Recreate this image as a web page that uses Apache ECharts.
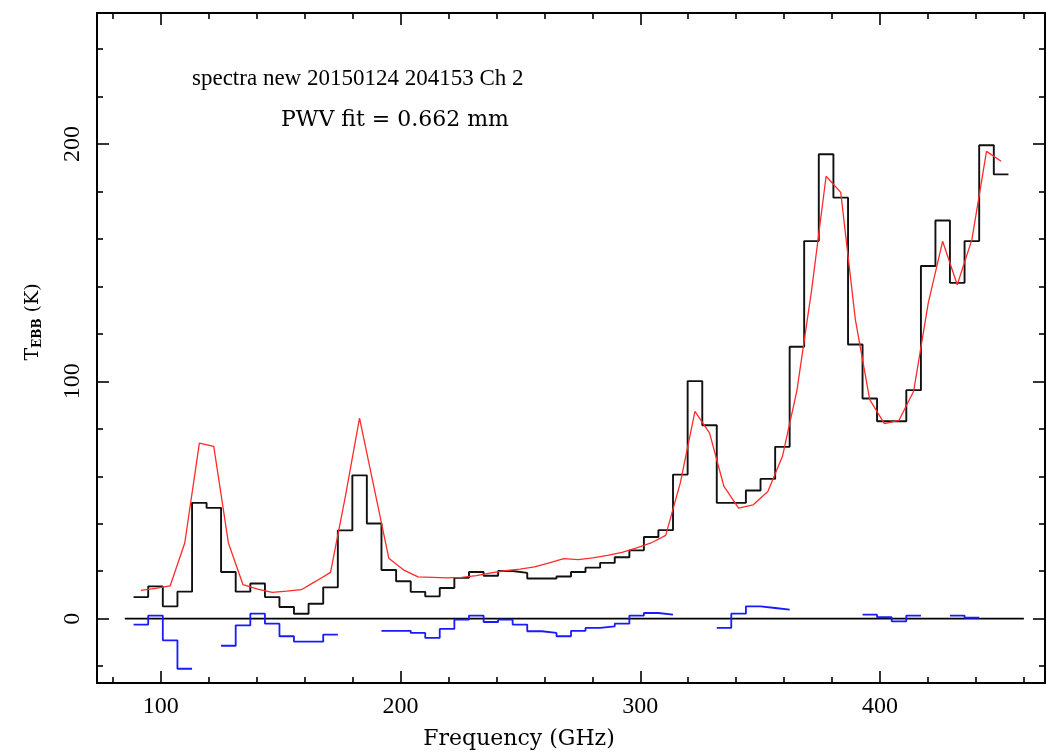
<!DOCTYPE html>
<html><head><meta charset="utf-8">
<script src="https://cdn.jsdelivr.net/npm/echarts@6/dist/echarts.min.js"></script>
<style>html,body{margin:0;padding:0;background:#fff}#c{width:1053px;height:754px}</style>
</head><body><div id="c"></div>
<script>
// ---- data ----
const channelFreq = [91.7, 97.8, 103.9, 110.0, 116.1, 122.1, 128.2, 134.3, 140.4, 146.5,
  152.5, 158.6, 164.7, 170.8, 176.9, 182.9, 189.0, 195.1, 201.2, 207.3,
  213.3, 219.4, 225.5, 231.6, 237.7, 243.7, 249.8, 255.9, 262.0, 268.1,
  274.1, 280.2, 286.3, 292.4, 298.5, 304.5, 310.6, 316.7, 322.8, 328.9,
  334.9, 341.0, 347.1, 353.2, 359.3, 365.3, 371.4, 377.5, 383.6, 389.7,
  395.7, 401.8, 407.9, 414.0, 420.1, 426.1, 432.2, 438.3, 444.4, 450.5];
const measuredT = [9.1, 13.6, 5.2, 11.4, 48.8, 46.7, 19.7, 11.4, 14.8, 9.1,
  4.9, 2.1, 6.3, 13.2, 37.2, 60.4, 40.1, 20.5, 15.8, 11.3,
  9.4, 12.9, 17.2, 19.7, 18.1, 20.1, 19.3, 16.9, 16.9, 17.8,
  19.7, 21.5, 23.5, 25.9, 28.8, 34.4, 37.3, 60.7, 100.1, 81.5,
  48.8, 48.8, 54.0, 58.9, 72.4, 114.6, 159.1, 195.7, 177.4, 115.5,
  92.8, 83.2, 83.2, 96.3, 148.6, 167.8, 141.5, 159.1, 199.5, 187.2];
const modelT = [11.9, 12.8, 13.8, 31.9, 74.0, 72.6, 31.9, 14.3, 12.5, 11.1,
  11.6, 12.2, 15.8, 19.5, 51.0, 84.5, 55.0, 25.5, 20.6, 17.6,
  17.4, 17.2, 17.4, 18.1, 19.3, 20.2, 20.9, 21.8, 23.5, 25.3,
  24.9, 25.6, 26.7, 27.9, 29.8, 31.9, 35.1, 57.2, 87.3, 78.2,
  55.7, 46.6, 48.0, 53.6, 68.4, 96.0, 138.0, 186.4, 179.6, 126.0,
  92.3, 82.2, 83.6, 95.8, 133.0, 159.0, 140.7, 159.7, 196.9, 192.7];
const residualT = [-2.5, 1.3, -9.1, -21.1, null, null, -11.4, -2.8, 2.1, -2.1,
  -7.4, -9.7, -9.7, -6.7, null, null, null, -5.1, -5.1, -6.0,
  -8.1, -4.3, -0.4, 1.3, -1.4, -0.4, -2.5, -5.3, -6.0, -7.4,
  -5.1, -3.9, -3.2, -2.1, 1.3, 2.4, 1.7, null, null, null,
  -3.9, 2.1, 5.2, 4.5, 3.8, null, null, null, null, null,
  1.7, 0.6, -1.1, 1.3, null, null, 1.3, 0.4, null, null];
const zeroLineFreq = [85, 460];
const xRange = [73.4, 468.8];
const yRange = [-27.1, 255.2];
const xTickValues = [100, 200, 300, 400];
const yTickValues = [0, 100, 200];
const titleLines = ['spectra new 20150124 204153 Ch 2', 'PWV fit = 0.662 mm'];
const xTitle = 'Frequency (GHz)';

// ---- build histogram outlines from channel centres ----
function binEdges(c) {
  const e = [c[0] - (c[1] - c[0]) / 2];
  for (let i = 0; i < c.length - 1; i++) e.push((c[i] + c[i + 1]) / 2);
  e.push(c[c.length - 1] + (c[c.length - 1] - c[c.length - 2]) / 2);
  return e;
}
const edges = binEdges(channelFreq);
function histogram(vals) {
  const pts = [];
  for (let i = 0; i < vals.length; i++) {
    if (vals[i] === null) { if (pts.length && pts[pts.length - 1][1] !== null) pts.push([edges[i], null]); continue; }
    pts.push([edges[i], vals[i]], [edges[i + 1], vals[i]]);
  }
  return pts;
}

const SERIF = 'Liberation Serif';
const WIDE = 'DejaVu Serif';
const chart = echarts.init(document.getElementById('c'), null, {renderer: 'canvas'});
const tickCommon = {
  axisLine: {show: true, onZero: false, lineStyle: {color: '#000', width: 2}},
  axisTick: {show: true, inside: true, length: 12, lineStyle: {color: '#000', width: 1.6}},
  minorTick: {show: true, splitNumber: 5, length: 6, lineStyle: {color: '#000', width: 1.6}},
  splitLine: {show: false}, minorSplitLine: {show: false}
};
chart.setOption({
  animation: false,
  backgroundColor: '#fff',
  grid: {left: 97, top: 13, right: 8, bottom: 71, containLabel: false},
  xAxis: [
    Object.assign({type: 'value', min: xRange[0], max: xRange[1], splitNumber: 4, position: 'bottom',
      axisLabel: {show: true, margin: 12, color: '#000', fontFamily: SERIF, fontSize: 24,
        showMinLabel: false, showMaxLabel: false,
        formatter: v => xTickValues.includes(Math.round(v * 1000) / 1000) ? String(v) : ''}}, tickCommon),
    Object.assign({type: 'value', min: xRange[0], max: xRange[1], splitNumber: 4, position: 'top',
      axisLabel: {show: false}}, tickCommon)
  ],
  yAxis: [
    Object.assign({type: 'value', min: yRange[0], max: yRange[1], splitNumber: 3, position: 'left',
      axisLabel: {show: true, rotate: 90, margin: 12, color: '#000', fontFamily: SERIF, fontSize: 24,
        showMinLabel: false, showMaxLabel: false,
        formatter: v => yTickValues.includes(Math.round(v * 1000) / 1000) ? String(v) : ''}}, tickCommon),
    Object.assign({type: 'value', min: yRange[0], max: yRange[1], splitNumber: 3, position: 'right',
      axisLabel: {show: false}}, tickCommon)
  ],
  series: [
    {type: 'line', name: 'zero', data: zeroLineFreq.map(f => [f, 0]), showSymbol: false, symbol: 'none',
      lineStyle: {color: '#000', width: 1.8}, z: 2},
    {type: 'line', name: 'measured', data: histogram(measuredT), showSymbol: false, symbol: 'none',
      connectNulls: false, lineStyle: {color: '#111', width: 1.9}, z: 3},
    {type: 'line', name: 'model', data: channelFreq.map((f, i) => [f, modelT[i]]), showSymbol: false, symbol: 'none',
      lineStyle: {color: '#ff2a2a', width: 1.3}, z: 4},
    {type: 'line', name: 'residual', data: histogram(residualT), showSymbol: false, symbol: 'none',
      connectNulls: false, lineStyle: {color: '#1a1aff', width: 1.8}, z: 5}
  ],
  graphic: [
    {type: 'text', x: 192, y: 79, style: {text: titleLines[0], font: '23px "' + SERIF + '"', fill: '#000', align: 'left', verticalAlign: 'middle'}},
    {type: 'text', x: 281, y: 120, style: {text: titleLines[1], font: '22px "' + WIDE + '"', fill: '#000', align: 'left', verticalAlign: 'middle'}},
    {type: 'text', x: 519, y: 739, style: {text: xTitle, font: '22px "' + WIDE + '"', fill: '#000', align: 'center', verticalAlign: 'middle'}},
    {type: 'text', x: 33, y: 322, rotation: Math.PI / 2,
      style: {text: '{t|T}{s|EBB}{t| (K)}', align: 'center', verticalAlign: 'middle', fill: '#000',
        rich: {t: {fontFamily: WIDE, fontSize: 19, fill: '#000', lineHeight: 22},
               s: {fontFamily: WIDE, fontSize: 12, fontWeight: 'bold', fill: '#000', verticalAlign: 'bottom', lineHeight: 16}}}}
  ]
});
</script></body></html>
